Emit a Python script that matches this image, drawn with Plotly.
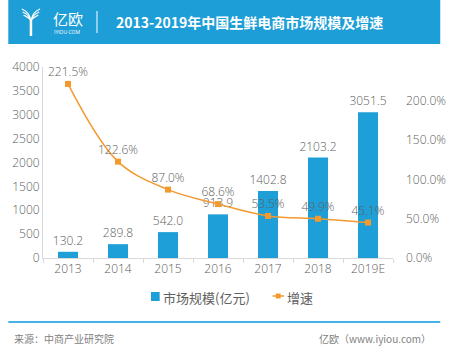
import plotly.graph_objects as go

# Market size (100 million yuan) and year-on-year growth (%)
years = ["2013", "2014", "2015", "2016", "2017", "2018", "2019E"]
market_size = [130.2, 289.8, 542.0, 913.9, 1402.8, 2103.2, 3051.5]
growth_rate = [221.5, 122.6, 87.0, 68.6, 53.5, 49.9, 45.1]
left_ticks = [0, 500, 1000, 1500, 2000, 2500, 3000, 3500, 4000]
right_ticks = [0, 50, 100, 150, 200]

W, H = 458, 349
ML, MR, MT, MB = 36, 59, 67, 91
PW, PH = W - ML - MR, H - MT - MB

BLUE = "#1E9FD8"
ORANGE = "#F39A2E"
GREY = "#606060"
FONT = "Open Sans, Noto Sans CJK SC, sans-serif"
CJK = "Noto Sans CJK SC, sans-serif"


def px(x):
    return (x - ML) / PW


def py(y):
    return (H - MB - y) / PH


fig = go.Figure()

fig.add_trace(go.Bar(
    x=years, y=market_size, name="市场规模(亿元)",
    marker=dict(color=BLUE, line=dict(width=0)), width=0.4,
    text=[f"{v:.1f}" for v in market_size], textposition="outside", constraintext="none",
    textfont=dict(size=12, color=GREY, family=FONT, weight=300), cliponaxis=False,
))

fig.add_trace(go.Scatter(
    x=years, y=growth_rate, name="增速", yaxis="y2",
    mode="lines+markers+text", line=dict(color=ORANGE, width=1.5, shape="spline"),
    marker=dict(symbol="square", size=6, color=ORANGE),
    text=[f"{v:.1f}%" for v in growth_rate], textposition="top center",
    textfont=dict(size=12, color=GREY, family=FONT, weight=300), cliponaxis=False,
))

shapes = [
    # header band
    dict(type="rect", xref="paper", yref="paper", x0=px(0), x1=px(448), y0=py(44), y1=py(0),
         fillcolor="#1E9ED6", line=dict(width=0), layer="below"),
    # separator in header
    dict(type="line", xref="paper", yref="paper", x0=px(92), x1=px(92), y0=py(11), y1=py(33),
         line=dict(color="white", width=1)),
    # footer rule
    dict(type="line", xref="paper", yref="paper", x0=px(0), x1=px(448), y0=py(322), y1=py(322),
         line=dict(color="#45B3E6", width=2)),
    # legend keys
    dict(type="rect", xref="paper", yref="paper", x0=px(148), x1=px(157), y0=py(301), y1=py(292),
         fillcolor=BLUE, line=dict(width=0)),
    dict(type="line", xref="paper", yref="paper", x0=px(274), x1=px(286), y0=py(296), y1=py(296),
         line=dict(color=ORANGE, width=1.5)),
    dict(type="rect", xref="paper", yref="paper", x0=px(277.5), x1=px(282.5), y0=py(298.5), y1=py(293.5),
         fillcolor=ORANGE, line=dict(width=0)),
]

# logo glyph: curved strokes merging into a stem
for dx in (0, 3, 6):
    shapes.append(dict(
        type="path", xref="paper", yref="paper",
        path=(f"M {px(14+dx*0.3)},{py(9+dx)} Q {px(22)},{py(12+dx)} {px(23)},{py(20)}"),
        line=dict(color="white", width=1.3)))
    shapes.append(dict(
        type="path", xref="paper", yref="paper",
        path=(f"M {px(33-dx*0.3)},{py(9+dx)} Q {px(25)},{py(12+dx)} {px(24)},{py(20)}"),
        line=dict(color="white", width=1.3)))
shapes.append(dict(type="line", xref="paper", yref="paper", x0=px(23.5), x1=px(23.5),
                   y0=py(20), y1=py(36), line=dict(color="white", width=2.5)))

annotations = [
    dict(text="亿欧", x=px(44), y=py(18), xanchor="left", yanchor="middle",
         font=dict(size=15, color="white", family=CJK)),
    dict(text="IYIOU·COM", x=px(45), y=py(32), xanchor="left", yanchor="middle",
         font=dict(size=5, color="white", family=FONT)),
    dict(text="<b>2013-2019年中国生鲜电商市场规模及增速</b>", x=px(110), y=py(22),
         xanchor="left", yanchor="middle", font=dict(size=14, color="white", family=CJK)),
    dict(text="市场规模(亿元)", x=px(158), y=py(297), xanchor="left", yanchor="middle",
         font=dict(size=13, color=GREY, family=CJK)),
    dict(text="增速", x=px(287), y=py(297), xanchor="left", yanchor="middle",
         font=dict(size=13, color=GREY, family=CJK)),
    dict(text="来源：中商产业研究院", x=px(4), y=py(338), xanchor="left", yanchor="middle",
         font=dict(size=10, color="#7F7F7F", family=CJK)),
    dict(text="亿欧（www.iyiou.com）", x=px(440), y=py(338), xanchor="right", yanchor="middle",
         font=dict(size=10, color="#7F7F7F", family=CJK)),
]
for a in annotations:
    a.update(xref="paper", yref="paper", showarrow=False)

tickfont = dict(size=12, color=GREY, family=FONT, weight=300)

fig.update_layout(
    width=W, height=H,
    margin=dict(l=ML, r=MR, t=MT, b=MB, pad=0),
    paper_bgcolor="white", plot_bgcolor="white",
    font=dict(family=FONT, size=12, color=GREY),
    showlegend=False,
    xaxis=dict(showline=True, linecolor="#D9D9D9", linewidth=1, ticks="outside",
               tickson="boundaries", ticklen=4, tickcolor="#D9D9D9",
               tickfont=tickfont, showgrid=False),
    yaxis=dict(range=[0, 4000], tickvals=left_ticks, showline=True, linecolor="#D9D9D9",
               showgrid=False, zeroline=False, ticks="", tickfont=tickfont),
    yaxis2=dict(overlaying="y", side="right", range=[0, 243], tickvals=right_ticks,
                ticktext=[f"{v:.1f}%" for v in right_ticks], showgrid=False, zeroline=False,
                showline=False, ticks="", ticklabelstandoff=12, tickfont=tickfont),
    shapes=shapes, annotations=annotations,
    bargap=0.6,
)

fig.write_html("out.html")
